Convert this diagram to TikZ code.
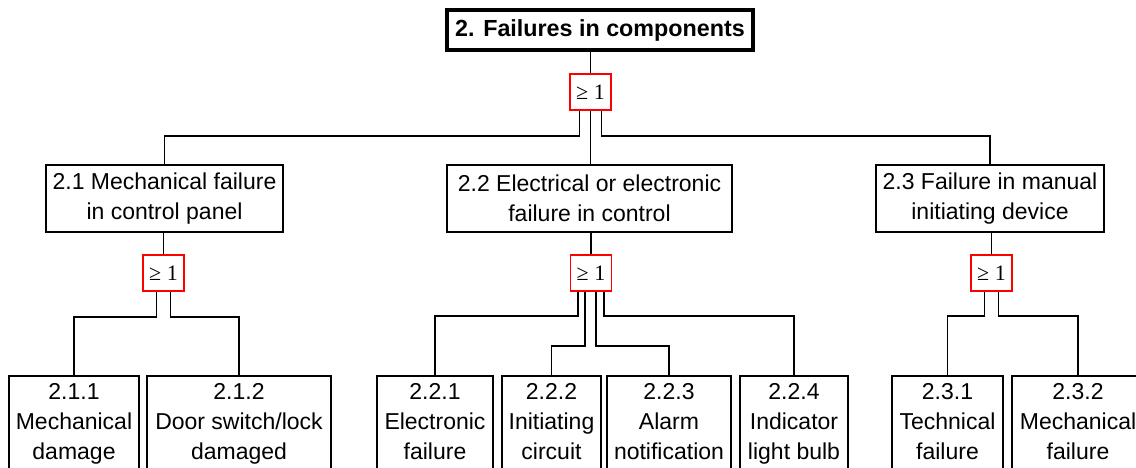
\documentclass[tikz,border=0pt]{standalone}
\usepackage{fontspec}
\setmainfont{Liberation Sans}
\newfontfamily\gatefont{Liberation Serif}
\usetikzlibrary{positioning}

\begin{document}
\begin{tikzpicture}[x=1pt,y=-1pt,line width=1.7pt,
  topevent/.style={draw,line width=4pt,minimum width=306pt,minimum height=40pt,inner sep=0pt,font=\fontsize{23.3}{30}\selectfont\bfseries},
  event/.style={draw,align=center,minimum height=67pt,inner sep=0pt,font=\fontsize{23}{30}\selectfont},
  orgate/.style={draw=red,minimum width=41pt,minimum height=36pt,inner sep=0pt,font=\gatefont\fontsize{22}{22}\selectfont},
  basic/.style={draw,align=center,anchor=north,inner xsep=0pt,inner ysep=8pt,text depth=100pt,font=\fontsize{23}{30}\selectfont}]

\useasboundingbox (0,0) rectangle (1136,468);
\clip (0,0) rectangle (1136,468);

\node[topevent] (top) at (600,30) {2. Failures in components};
\node[orgate] (g0) at (590.5,92) {≥ 1};

\node[event,minimum width=237pt] (e1) at (164.5,198.5) {2.1 Mechanical failure\\in control panel};
\node[event,minimum width=285pt] (e2) at (589.5,198.5) {2.2 Electrical or electronic\\failure in control};
\node[event,minimum width=228pt] (e3) at (990,198.5) {2.3 Failure in manual\\initiating device};

\node[orgate] (g1) at (163.5,273) {≥ 1};
\node[orgate] (g2) at (591,273) {≥ 1};
\node[orgate] (g3) at (991.5,273) {≥ 1};

%basic events
\node[basic,minimum width=130pt] (b11) at (74,375) {2.1.1\\Mechanical\\damage};
\node[basic,minimum width=184pt] (b12) at (239,375) {2.1.2\\Door switch/lock\\damaged};
\node[basic,minimum width=116pt] (b21) at (435,375) {2.2.1\\Electronic\\failure};
\node[basic,minimum width=99pt] (b22) at (551.5,375) {2.2.2\\Initiating\\circuit};
\node[basic,minimum width=124pt] (b23) at (669,375) {2.2.3\\Alarm\\notification};
\node[basic,minimum width=108pt] (b24) at (794,375) {2.2.4\\Indicator\\light bulb};
\node[basic,minimum width=111pt] (b31) at (947.5,375) {2.3.1\\Technical\\failure};
\node[basic,minimum width=132pt] (b32) at (1078,375) {2.3.2\\Mechanical\\failure};

\draw (g0.north |- top.south) -- (g0.north);
\draw ([xshift=-11pt]g0.south) -- ++(0,25) -| (e1.north);
\draw (g0.south) -- (g0.south |- e2.north);
\draw ([xshift=11pt]g0.south) -- ++(0,25) -| (e3.north);

\draw (e1.south -| g1) -- (g1.north);
\draw (e2.south -| g2) -- (g2.north);
\draw (e3.south -| g3) -- (g3.north);

\draw ([xshift=-7pt]g1.south) -- ++(0,25) -| (b11.north);
\draw ([xshift=7pt]g1.south) -- ++(0,25) -| (b12.north);

\draw ([xshift=-13pt]g2.south) -- ++(0,24) -| (b21.north);
\draw ([xshift=-6pt]g2.south) -- ++(0,54) -| (b22.north);
\draw ([xshift=5pt]g2.south) -- ++(0,54) -| (b23.north);
\draw ([xshift=13pt]g2.south) -- ++(0,24) -| (b24.north);

\draw ([xshift=-7pt]g3.south) -- ++(0,24) -| (b31.north);
\draw ([xshift=7pt]g3.south) -- ++(0,24) -| (b32.north);
\end{tikzpicture}
\end{document}
